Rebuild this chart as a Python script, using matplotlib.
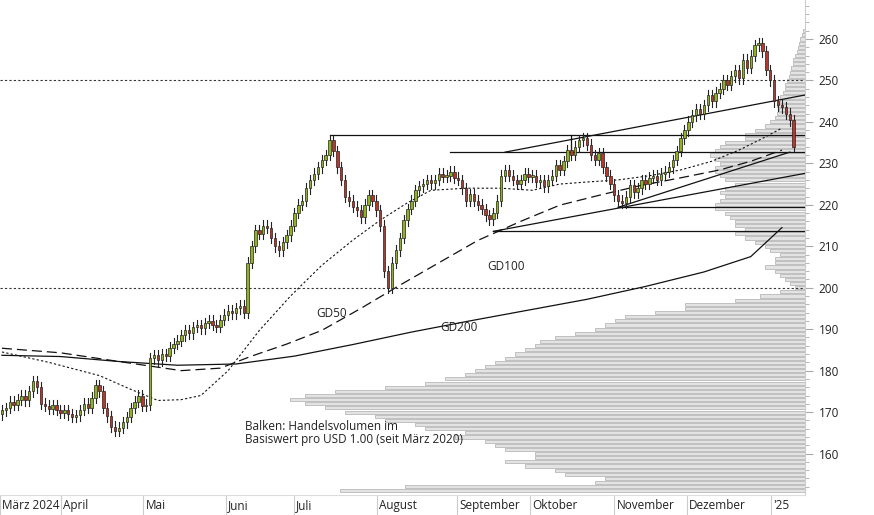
import matplotlib
matplotlib.use("Agg")
import matplotlib.pyplot as plt
import matplotlib.transforms as mtrans

plt.rcParams['font.family'] = ['Open Sans', 'DejaVu Sans']

closes = [170.4,171,172.5,171.8,173,174,172.8,175,177.5,176,
172,171.5,170.8,171.6,170.5,169.8,170.4,169.5,168.8,169.2,
170.5,172,171,173.5,176.5,175,171,169,166.5,165.5,
166.2,167.5,168.8,171,172.5,174,171.5,171.8,183,183.7,
182.5,184,183.6,185.5,186.5,187.2,188.5,189.7,189,190.5,
191,190.2,191.5,192,191,190.5,192.2,193.5,194.5,193.8,
195,195.7,194,206,210,213.9,213,215,214.5,212,
210,209,211,212.6,215,218,220,221,224,226,
227.5,229,230.8,232,235.6,233,229,226,222,221,
219.5,218.7,217,220,222.3,221,218.7,215,204,200,
206,209,212,216.3,219,221,223.5,224.5,225,226,
225.2,226,227.5,226.8,227,228,226.5,226,224,221,
222.5,221,220,219,217.5,216.5,218,221,227,228.4,
227,226,225,226,227.5,226.8,227,225.5,226,224.5,
226,227,229.6,228.5,230.5,233.2,232,234,235.6,236,
234.5,232,230.8,232.5,229,227,225,222.3,221,220.5,
222,224.7,223,224,226,225,226.5,227,226,227.5,
228,229,230.8,233,236,238,240,241.6,243,242,
244,246.5,245,247,248,250,249,251,252.5,250.5,
255,253,256,258.5,259,257,252.5,250,245,244,
243.5,242,240.4,234]
first_open = 169.5
wick = 1.3

gd200_x = [0, 15, 30, 45, 60, 75, 90, 105, 120, 135, 150, 165, 180, 192, 200]
gd200_y = [183.7, 183.4, 182.2, 181.3, 181.6, 183.5, 186.3, 189.3, 192.0, 194.6, 197.2, 200.3, 203.8, 207.5, 214.5]
gd100_x = [0, 15, 30, 46, 56, 64, 73, 82, 92, 102, 112, 122, 133, 143, 154, 164, 174, 184, 192, 200]
gd100_y = [185.4, 184.3, 182.2, 180.0, 180.6, 183.5, 186.4, 189.7, 195.0, 200.6, 206.0, 211.4, 216.0, 219.9, 222.5, 224.7, 226.5, 228.4, 230.5, 233.2]
gd50_x = [0, 12, 25, 33, 40, 46, 51, 58, 66, 74, 82, 90, 97, 104, 110, 119, 128, 136, 143, 150, 158, 166, 174, 182, 189, 195, 200]
gd50_y = [184.5, 182.0, 178.8, 175.5, 172.8, 173.0, 174.0, 180.0, 189.7, 198.0, 205.4, 211.5, 216.3, 220.5, 223.5, 224.0, 224.0, 223.5, 225.0, 225.5, 226.0, 227.0, 228.4, 230.5, 233.2, 236.0, 238.5]

hlines = [(84, 236.8, 206, 236.8), (115, 232.7, 206, 232.7),
          (158, 219.4, 206, 219.4), (126, 213.6, 206, 213.6)]
trends = [(126, 213.6, 206, 227.6), (129, 232.7, 206, 246.5), (158, 219.4, 202, 232.7),
          (146, 236.8, 146, 232.7)]

vp_price = list(range(151, 263))
vp_vol = [465,400,210,200,240,250,280,300,270,270,300,310,320,350,340,380,390,420,430,460,
          480,500,515,500,470,420,380,360,340,330,320,310,300,290,280,270,265,250,230,210,
          200,190,180,150,120,120,70,45,25,10,15,20,25,30,40,30,30,25,35,40,
          50,60,70,60,70,70,75,80,90,90,85,80,85,80,70,80,85,90,90,85,
          90,95,90,85,80,60,60,50,40,35,30,28,26,28,25,25,22,20,20,18,
          16,15,14,12,12,10,8,7,6,5,3,2]

months = ["März 2024","April","Mai","Juni","Juli","August","September","Oktober","November","Dezember","'25"]
month_pos = [-0.5, 15.1, 36.2, 57.4, 74.9, 96.2, 116.7, 135.4, 157.0, 175.6, 197.2]

fig = plt.figure(figsize=(8.74, 5.15), dpi=100)
ax = fig.add_axes([0, 20/515, 805/874, 495/515])
px = 3.9
xr = 805/px - 0.5
ax.set_xlim(-0.5, xr)
ax.set_ylim(150, 269.4)

scale = 515 / px / max(vp_vol)
for p, v in zip(vp_price, vp_vol):
    w = v*scale
    ax.barh(p, w, left=xr-w, height=0.75, color="#e3e3e3", edgecolor="#b8b8b8", linewidth=0.6, zorder=1)

ax.axhline(250, color="#333", ls=(0,(2,2)), lw=0.8, zorder=2)
ax.axhline(200, color="#333", ls=(0,(2,2)), lw=0.8, zorder=2)

for x0,y0,x1,y1 in hlines + trends:
    ax.plot([x0,x1],[y0,y1], color="#111", lw=0.9, zorder=3)

ax.plot(gd200_x, gd200_y, color="#111", lw=0.9, zorder=3)
ax.plot(gd100_x, gd100_y, color="#111", lw=0.9, ls=(0,(8,4)), zorder=3)
ax.plot(gd50_x, gd50_y, color="#111", lw=0.8, ls=(0,(2,2)), zorder=3)

opens = [first_open] + closes[:-1]
for i,(o,c) in enumerate(zip(opens, closes)):
    hi = max(o,c)+wick; lo = min(o,c)-wick
    col = "#8fb31d" if c >= o else "#b8372a"
    ax.plot([i,i],[lo,hi], color="#222", lw=0.8, zorder=4)
    ax.bar(i, max(abs(c-o),0.3), bottom=min(o,c), width=0.6, color=col, edgecolor="#222", linewidth=0.5, zorder=5)

ax.text(80.5, 193, "GD50", fontsize=8.5, color="#222")
ax.text(112.5, 189.5, "GD200", fontsize=8.5, color="#222")
ax.text(124.5, 204.3, "GD100", fontsize=8.5, color="#222")
ax.text(62.3, 161.8, "Balken: Handelsvolumen im\nBasiswert pro USD 1.00 (seit März 2020)", fontsize=8.5, color="#222", va="bottom", linespacing=1.05)

ax.yaxis.tick_right()
ax.set_yticks(range(160, 261, 10))
ax.set_yticks(range(152, 269, 2), minor=True)
ax.tick_params(axis="y", which="major", length=6, color="#aaa", labelsize=8.5, labelcolor="#222", pad=4)
ax.tick_params(axis="y", which="minor", length=3, color="#aaa")
for s in ["top","left","bottom"]:
    ax.spines[s].set_visible(False)
ax.spines["right"].set_color("#ccc")

ax.set_xticks(month_pos)
ax.set_xticklabels([])
ax.tick_params(axis="x", length=20, color="#ccc", width=0.8)
trans = mtrans.blended_transform_factory(ax.transData, fig.transFigure)
for m, p in zip(months, month_pos):
    ax.text(p + 0.6, 3/515, m, transform=trans, fontsize=8.5, color="#222", va="bottom")
fig.add_artist(plt.Line2D([0, 805/874],[20/515,20/515], color="#ddd", lw=0.8))

fig.savefig("out.png", dpi=100)
